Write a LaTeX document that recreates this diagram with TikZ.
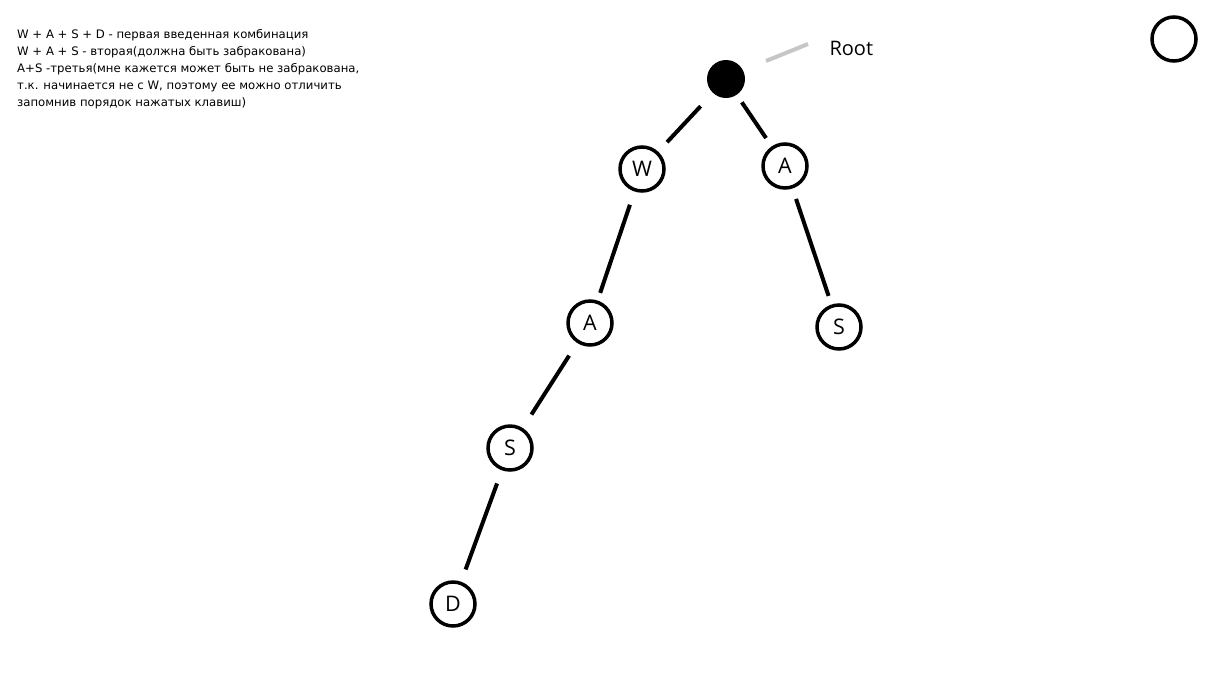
\documentclass[tikz,border=0pt]{standalone}
\usepackage{fontspec}
\setmainfont{Open Sans}
\newfontfamily\notefont{DejaVu Sans}
\begin{document}
\begin{tikzpicture}[x=1pt,y=-1pt,
  key/.style={circle,draw=black,line width=3.5pt,fill=white,minimum size=44pt,inner sep=0pt,font=\fontsize{21.5}{21.5}\selectfont},
  rootnode/.style={circle,fill=black,minimum size=38pt,inner sep=0pt},
  edge/.style={line width=4pt,black}]
\useasboundingbox (0,0) rectangle (1206,691);
% tree nodes
\node[rootnode] (root) at (726,79) {};
\node[key] (w) at (642,169) {W};
\node[key] (a2) at (785,166) {A};
\node[key] (a1) at (590,323) {A};
\node[key] (s2) at (839,327) {S};
\node[key] (s1) at (510,448) {S};
\node[key] (d) at (453,604) {D};
\node[key] (spare) at (1174,39) {};
% edges
\draw[edge,shorten <=18pt,shorten >=13pt] (root) -- (w);
\draw[edge,shorten <=9pt,shorten >=10pt] (root) -- (a2);
\draw[edge,shorten <=14pt,shorten >=8pt] (w) -- (a1);
\draw[edge,shorten <=11pt,shorten >=9pt] (a2) -- (s2);
\draw[edge,shorten <=15pt,shorten >=16pt] (a1) -- (s1);
\draw[edge,shorten <=14pt,shorten >=13pt] (s1) -- (d);
% root label
\coordinate (pa) at (766,61);
\coordinate (pb) at (808,44);
\draw[line width=4pt,gray!45] (pa) -- (pb);
\node[anchor=west,font=\fontsize{20}{20}\selectfont] (rootlbl) at (826,48) {Root};
% notes
\node[anchor=north west,align=left,inner sep=0pt,font=\notefont\fontsize{11.7}{17}\selectfont] (notes) at (17,29) {%
W + A + S + D - первая введенная комбинация\\
W + A + S - вторая(должна быть забракована)\\
A+S -третья(мне кажется может быть не забракована,\\
т.к. начинается не с W, поэтому ее можно отличить\\
запомнив порядок нажатых клавиш)};
\end{tikzpicture}
\end{document}
